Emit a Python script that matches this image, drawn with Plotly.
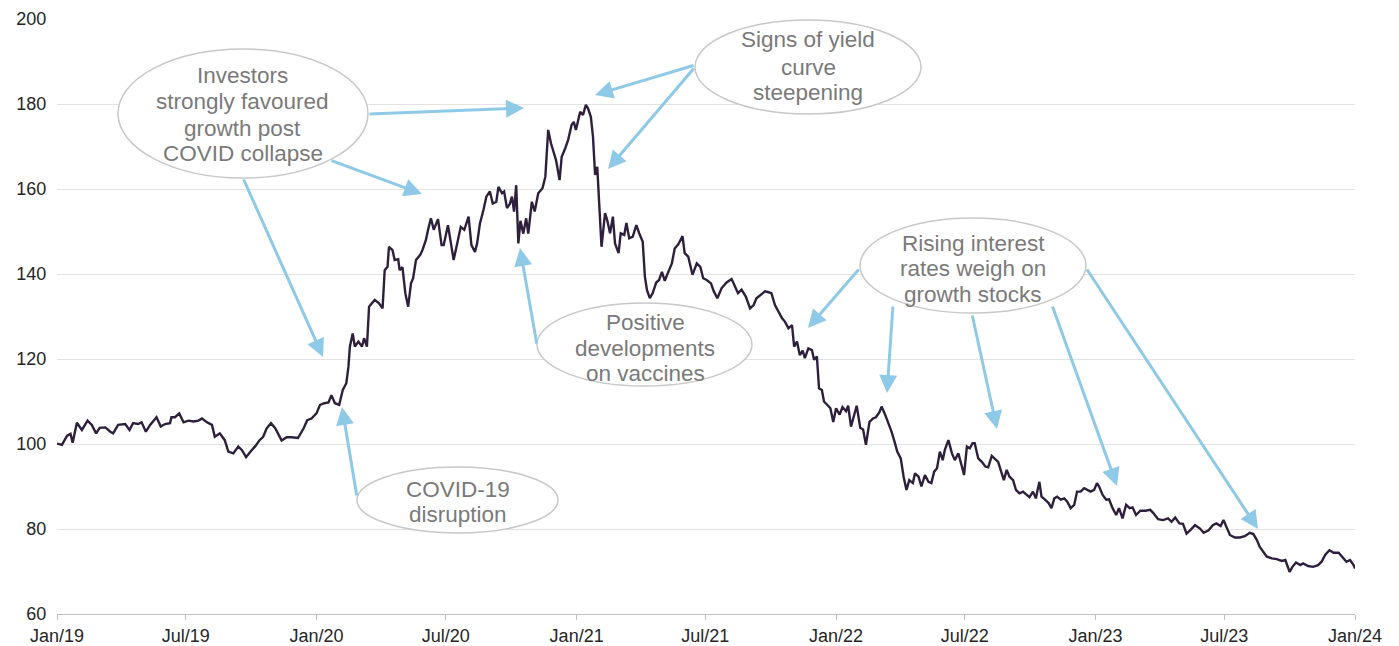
import pandas as pd
import plotly.graph_objects as go

# ---------------- data ----------------
start_date = "2019-01-01"
day_offsets = [
    0, 7, 14, 19, 22, 28, 35, 43, 49, 55,
    60, 68, 75, 79, 86, 96, 102, 107, 114, 119,
    125, 131, 140, 146, 152, 159, 161, 166, 172, 178,
    185, 192, 199, 204, 211, 218, 222, 229, 236, 241,
    248, 255, 260, 266, 272, 279, 285, 290, 295, 301,
    307, 311, 316, 323, 330, 339, 347, 352, 358, 365,
    370, 376, 382, 386, 391, 397, 402, 407, 410, 412,
    416, 419, 424, 429, 432, 436, 439, 443, 447, 453,
    458, 461, 465, 467, 472, 475, 480, 482, 486, 490,
    494, 498, 501, 505, 511, 514, 519, 522, 526, 530,
    536, 541, 544, 550, 558, 563, 568, 573, 579, 583,
    588, 591, 595, 600, 604, 609, 613, 618, 621, 626,
    629, 633, 637, 640, 643, 646, 649, 652, 656, 660,
    663, 668, 672, 677, 683, 687, 691, 695, 698, 702,
    707, 710, 715, 719, 724, 727, 730, 736, 740, 744,
    747, 751, 754, 757, 760, 763, 766, 771, 774, 778,
    782, 785, 790, 793, 798, 801, 805, 810, 815, 819,
    824, 827, 830, 834, 838, 843, 847, 851, 855, 860,
    865, 869, 874, 880, 883, 888, 894, 900, 905, 909,
    914, 920, 924, 929, 935, 942, 949, 954, 958, 963,
    969, 975, 980, 984, 990, 996, 1001, 1005, 1010, 1015,
    1020, 1024, 1029, 1034, 1037, 1041, 1045, 1049, 1052, 1057,
    1062, 1065, 1069, 1072, 1076, 1079, 1084, 1088, 1092, 1096,
    1101, 1105, 1110, 1113, 1117, 1121, 1125, 1130, 1134, 1138,
    1143, 1148, 1152, 1157, 1160, 1165, 1169, 1174, 1179, 1182,
    1187, 1191, 1195, 1199, 1204, 1207, 1212, 1216, 1221, 1226,
    1230, 1234, 1238, 1242, 1246, 1249, 1254, 1259, 1263, 1268,
    1273, 1276, 1280, 1284, 1288, 1291, 1296, 1301, 1306, 1310,
    1315, 1320, 1324, 1329, 1332, 1336, 1340, 1345, 1349, 1354,
    1359, 1363, 1368, 1373, 1377, 1382, 1385, 1390, 1395, 1399,
    1403, 1407, 1412, 1417, 1421, 1426, 1431, 1435, 1440, 1445,
    1449, 1454, 1459, 1463, 1466, 1471, 1476, 1480, 1485, 1490,
    1494, 1499, 1504, 1509, 1513, 1518, 1524, 1531, 1538, 1542,
    1549, 1556, 1563, 1568, 1573, 1579, 1584, 1589, 1594, 1601,
    1608, 1613, 1620, 1626, 1631, 1637, 1641, 1646, 1650, 1657,
    1664, 1671, 1678, 1683, 1688, 1692, 1697, 1702, 1709, 1716,
    1723, 1728, 1734, 1738, 1743, 1749, 1753, 1760, 1767, 1774,
    1779, 1784, 1790, 1796, 1803, 1810, 1814, 1819, 1824, 1826,
]
index_values = [
    100.1, 99.8, 101.9, 102.4, 100.3, 105.0, 103.3, 105.5, 104.5, 102.5,
    103.8, 103.9, 102.9, 102.5, 104.5, 104.7, 103.3, 104.9, 104.7, 105.1,
    102.9, 104.5, 106.3, 104.1, 104.7, 104.9, 106.3, 106.3, 107.2, 105.1,
    105.5, 105.3, 105.5, 106.0, 105.1, 104.5, 101.7, 102.5, 100.9, 98.2,
    97.8, 99.4, 98.6, 96.9, 98.2, 99.5, 100.9, 101.7, 103.7, 104.9,
    103.7, 102.5, 100.8, 101.6, 101.6, 101.4, 103.7, 105.6, 106.0, 107.2,
    109.2, 109.6, 109.8, 111.5, 109.6, 109.2, 112.7, 114.3, 118.2, 122.9,
    126.0, 122.9, 124.1, 122.9, 124.9, 122.9, 132.3, 133.1, 133.9, 133.1,
    131.9, 140.9, 141.7, 146.4, 145.6, 143.3, 143.5, 140.9, 141.6, 135.5,
    132.3, 137.8, 139.0, 143.3, 144.5, 145.6, 148.0, 150.4, 153.1, 150.4,
    152.9, 146.8, 146.8, 151.5, 143.3, 147.2, 151.1, 150.4, 153.5, 146.8,
    145.2, 147.2, 151.9, 155.1, 158.2, 159.4, 156.6, 157.0, 160.5, 159.0,
    159.4, 155.5, 156.5, 158.2, 154.7, 160.9, 147.2, 152.5, 149.5, 153.1,
    149.5, 157.0, 154.7, 159.0, 160.2, 162.9, 173.9, 170.7, 168.8, 166.8,
    162.1, 167.6, 169.6, 171.5, 175.1, 175.8, 173.9, 178.2, 177.4, 179.8,
    179.0, 177.0, 172.3, 163.3, 165.2, 155.8, 146.4, 154.3, 152.7, 149.6,
    153.5, 147.2, 144.9, 149.6, 149.2, 152.0, 148.4, 148.8, 151.5, 149.6,
    147.6, 139.4, 136.2, 134.3, 135.5, 138.0, 138.6, 140.5, 138.4, 140.5,
    142.5, 146.0, 147.0, 148.9, 144.9, 144.1, 139.8, 142.5, 141.7, 139.0,
    138.6, 137.8, 135.9, 134.3, 136.7, 138.0, 138.8, 137.0, 135.5, 136.3,
    134.7, 131.9, 132.7, 134.3, 135.1, 135.9, 135.7, 135.5, 132.7, 131.1,
    129.6, 128.8, 127.2, 128.0, 122.9, 124.1, 120.9, 122.0, 120.2, 122.5,
    122.1, 119.8, 120.6, 113.1, 112.7, 110.0, 109.2, 108.4, 105.2, 108.4,
    106.9, 108.7, 107.7, 109.0, 104.1, 106.5, 109.0, 103.8, 103.4, 99.8,
    105.2, 106.0, 106.3, 107.5, 108.8, 106.9, 105.2, 102.9, 100.1, 98.2,
    96.6, 92.3, 89.2, 91.5, 90.8, 93.1, 92.3, 90.0, 92.7, 91.1,
    90.8, 93.5, 94.3, 98.2, 96.2, 98.6, 100.9, 97.8, 96.2, 97.8,
    94.7, 92.7, 99.4, 99.0, 100.2, 100.2, 96.6, 95.8, 94.7, 94.5,
    97.2, 96.4, 95.8, 93.1, 91.5, 93.9, 92.3, 91.5, 89.2, 88.4,
    88.8, 88.2, 87.5, 88.8, 87.2, 91.1, 87.6, 86.9, 86.1, 84.9,
    87.2, 87.6, 86.9, 87.2, 86.5, 84.9, 85.7, 88.8, 88.8, 89.6,
    89.2, 88.8, 89.2, 90.8, 90.0, 88.0, 86.9, 87.0, 84.9, 83.3,
    84.9, 82.5, 85.7, 84.9, 85.1, 83.3, 84.3, 84.3, 84.5, 83.8,
    82.3, 82.1, 82.5, 81.7, 82.7, 81.3, 81.2, 78.9, 79.7, 80.9,
    80.1, 79.1, 79.7, 80.9, 81.3, 80.7, 82.1, 79.9, 78.6, 78.0,
    78.0, 78.3, 79.1, 78.8, 77.4, 75.8, 74.6, 73.5, 73.1, 72.9,
    72.5, 72.7, 69.9, 71.1, 72.1, 71.5, 71.9, 71.3, 71.1, 71.5,
    72.3, 73.9, 75.0, 74.4, 74.4, 73.1, 72.3, 72.7, 71.5, 70.7,
]

x_tick_dates = ["2019-01-01", "2019-07-01", "2020-01-01", "2020-07-01", "2021-01-01",
                "2021-07-01", "2022-01-01", "2022-07-01", "2023-01-01", "2023-07-01",
                "2024-01-01"]
x_tick_labels = ["Jan/19", "Jul/19", "Jan/20", "Jul/20", "Jan/21", "Jul/21",
                 "Jan/22", "Jul/22", "Jan/23", "Jul/23", "Jan/24"]
y_tick_values = [60, 80, 100, 120, 140, 160, 180, 200]

callout_texts = [
    ["Investors", "strongly favoured", "growth post", "COVID collapse"],
    ["Signs of yield", "curve", "steepening"],
    ["Positive", "developments", "on vaccines"],
    ["COVID-19", "disruption"],
    ["Rising interest", "rates weigh on", "growth stocks"],
]

# ---------------- layout helpers (pixel layout -> paper coords) ----------------
W, H = 1399, 646
L, R, T, B = 57, 1355, 19, 614


def px(x):
    return (x - L) / (R - L)


def py(y):
    return (B - y) / (B - T)


# ellipse boxes (x0, x1, y0, y1) in pixels, and text line centres
ellipses = [
    (118, 368, 49, 178),
    (695, 921, 20, 114),
    (537, 752, 303, 386),
    (357, 558, 467, 533),
    (860, 1086, 218, 313),
]
text_centres_x = [243, 808, 645, 458, 973]
text_lines_y = [
    [75, 102, 128, 153],
    [40, 67, 92],
    [322, 348, 373],
    [489, 514],
    [243, 268, 294],
]
# arrows: tail (x, y) -> tip (x, y) in pixels
arrows = [
    ((368, 114), (524, 108)),
    ((330, 160), (422, 194)),
    ((243, 178), (323, 357)),
    ((695, 65), (595, 95)),
    ((695, 67), (608, 169)),
    ((537, 345), (520, 248)),
    ((357, 497), (342, 407)),
    ((860, 268), (808, 328)),
    ((893, 305), (887, 393)),
    ((972, 314), (997, 429)),
    ((1052, 305), (1117, 486)),
    ((1086, 268), (1258, 529)),
]

dates = pd.Timestamp(start_date) + pd.to_timedelta(day_offsets, unit="D")

fig = go.Figure()
fig.add_trace(go.Scatter(
    x=dates, y=index_values, mode="lines",
    line=dict(color="#2e1f3d", width=2.4),
    hoverinfo="skip", showlegend=False,
))

font_family = "Liberation Sans, Arial, sans-serif"
shapes = []
for (x0, x1, y0, y1) in ellipses:
    shapes.append(dict(
        type="circle", xref="paper", yref="paper",
        x0=px(x0), x1=px(x1), y0=py(y1), y1=py(y0),
        line=dict(color="#c8c8c8", width=1.5), fillcolor="white", layer="above",
    ))

annotations = []
for (tail, tip) in arrows:
    annotations.append(dict(
        xref="paper", yref="paper", x=px(tip[0]), y=py(tip[1]),
        axref="pixel", ayref="pixel", ax=tail[0] - tip[0], ay=tail[1] - tip[1],
        text="", showarrow=True, arrowhead=2, arrowsize=1.2, arrowwidth=3,
        arrowcolor="#8fc9e8", standoff=0, startstandoff=0,
    ))
for lines, cx, ys in zip(callout_texts, text_centres_x, text_lines_y):
    for txt, ly in zip(lines, ys):
        annotations.append(dict(
            xref="paper", yref="paper", x=px(cx), y=py(ly),
            xanchor="center", yanchor="middle", showarrow=False, text=txt,
            font=dict(family=font_family, size=22.5, color="#7a7a7a"),
        ))

fig.update_layout(
    width=W, height=H, autosize=False,
    margin=dict(l=L, r=W - R, t=T, b=H - B, pad=0, autoexpand=False),
    paper_bgcolor="white", plot_bgcolor="white",
    font=dict(family=font_family, size=18, color="#262626"),
    shapes=shapes, annotations=annotations,
    xaxis=dict(
        type="date", range=[x_tick_dates[0], x_tick_dates[-1]],
        tickvals=x_tick_dates, ticktext=x_tick_labels,
        showgrid=False, zeroline=False, automargin=False,
        showline=True, linecolor="#bfbfbf", linewidth=1,
        ticks="outside", ticklen=5, tickcolor="#bfbfbf",
        tickfont=dict(size=18, color="#262626"),
    ),
    yaxis=dict(
        range=[60, 200], tickvals=y_tick_values, automargin=False,
        showgrid=True, gridcolor="#e3e3e3", gridwidth=1, zeroline=False,
        showline=False, ticks="outside", ticklen=6, tickcolor="rgba(0,0,0,0)",
        tickfont=dict(size=18, color="#262626"),
    ),
)

fig.write_html(
    "out.html",
    config={"displayModeBar": False},
    post_script="document.body.style.margin='0';document.body.style.overflow='hidden';",
)
